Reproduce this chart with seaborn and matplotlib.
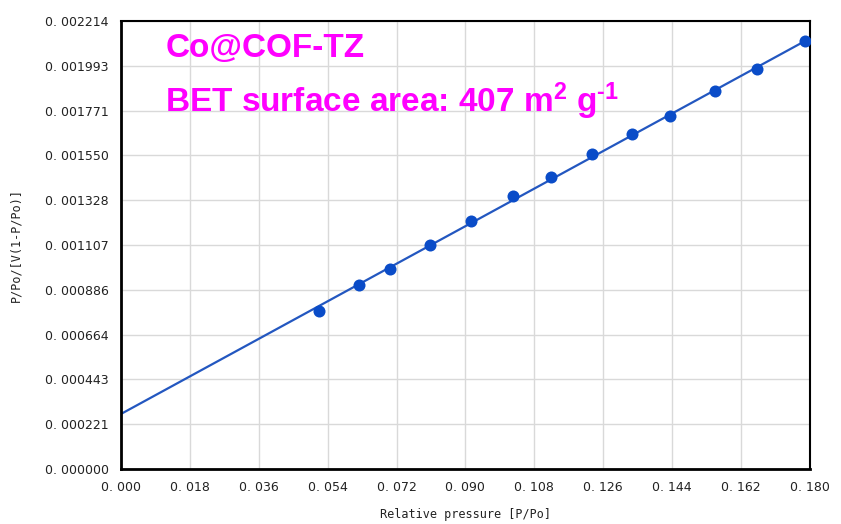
import numpy as np
import pandas as pd
import matplotlib
matplotlib.use("Agg")
import matplotlib.pyplot as plt
import seaborn as sns

# Data
rel_pressure = [0.0517, 0.0622, 0.0703, 0.0807, 0.0914, 0.1024, 0.1123,
                0.1230, 0.1335, 0.1434, 0.1552, 0.1661, 0.1787]
bet_value = [0.000781, 0.000909, 0.000988, 0.001107, 0.001226, 0.001349, 0.001443,
             0.001557, 0.001655, 0.001744, 0.001868, 0.001977, 0.002115]
fit_intercept = 0.000272
fit_slope = 0.01031
x_ticks = [0.000, 0.018, 0.036, 0.054, 0.072, 0.090, 0.108, 0.126, 0.144, 0.162, 0.180]
y_ticks = [0.000000, 0.000221, 0.000443, 0.000664, 0.000886, 0.001107,
           0.001328, 0.001550, 0.001771, 0.001993, 0.002214]
x_tick_labels = ["0. 000", "0. 018", "0. 036", "0. 054", "0. 072", "0. 090",
                 "0. 108", "0. 126", "0. 144", "0. 162", "0. 180"]
y_tick_labels = ["0. 000000", "0. 000221", "0. 000443", "0. 000664", "0. 000886",
                 "0. 001107", "0. 001328", "0. 001550", "0. 001771", "0. 001993",
                 "0. 002214"]

df = pd.DataFrame({"x": rel_pressure, "y": bet_value})
line_x = [0.0, rel_pressure[-1]]
line_df = pd.DataFrame({"x": line_x,
                        "y": [fit_intercept + fit_slope * v for v in line_x]})

sns.set_style("white")
plt.rcParams["font.family"] = ["DejaVu Sans"]
plt.rcParams["mathtext.fontset"] = "custom"
plt.rcParams["mathtext.rm"] = "Liberation Sans:bold"
plt.rcParams["mathtext.bf"] = "Liberation Sans:bold"
plt.rcParams["mathtext.it"] = "Liberation Sans:bold"
plt.rcParams["mathtext.default"] = "rm"

fig = plt.figure(figsize=(8.41, 5.24), dpi=100)
ax = fig.add_axes([0.1439, 0.105, 0.819, 0.855])

sns.lineplot(data=line_df, x="x", y="y", ax=ax, color="#2357c0", linewidth=1.6)
sns.scatterplot(data=df, x="x", y="y", ax=ax, color="#0a4cc8", s=75,
                edgecolor="#0a4cc8", linewidth=0, zorder=5)

ax.set_xlim(0, 0.180)
ax.set_ylim(0, 0.002214)
ax.set_xticks(x_ticks)
ax.set_xticklabels(x_tick_labels, family="DejaVu Sans", fontsize=9, color="#222222")
ax.set_yticks(y_ticks)
ax.set_yticklabels(y_tick_labels, family="DejaVu Sans", fontsize=9, color="#222222")
ax.grid(True, color="#d9d9d9", linewidth=1.0)
ax.set_axisbelow(True)

for side in ["left", "bottom"]:
    ax.spines[side].set_linewidth(2.0)
    ax.spines[side].set_color("black")
for side in ["top", "right"]:
    ax.spines[side].set_linewidth(1.5)
    ax.spines[side].set_color("black")

ax.tick_params(axis="both", direction="out", length=6, width=2, color="black", pad=3)

ax.set_xlabel("Relative pressure [P/Po]", family="DejaVu Sans Mono", fontsize=8.5,
              color="#222222", labelpad=10)
ax.set_ylabel("P/Po/[V(1-P/Po)]", family="DejaVu Sans Mono", fontsize=8.5,
              color="#222222", labelpad=16)

ax.text(0.0645, 0.938, "Co@COF-TZ", transform=ax.transAxes, color="#ff00ff",
        fontsize=24, fontweight="bold", family="Liberation Sans", va="center")
ax.text(0.0645, 0.82, r"BET surface area: 407 m$^{2}$ g$^{\text{-}1}$",
        transform=ax.transAxes, color="#ff00ff", fontsize=24, fontweight="bold",
        family="Liberation Sans", va="center")

fig.savefig("out.png", dpi=100)
